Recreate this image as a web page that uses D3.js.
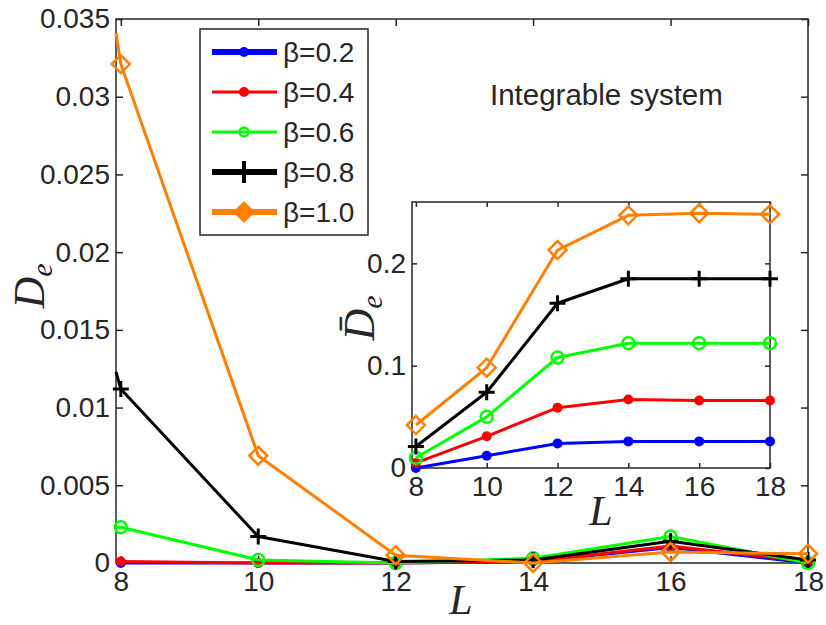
<!DOCTYPE html>
<meta charset="utf-8">
<style>

body {
  margin: 0;
  background: #fff;
}

svg {
  font: 28px "Liberation Sans", Arial, sans-serif;
}

.tick text {
  fill: #262626;
}

.label {
  font-family: "Liberation Serif", "Times New Roman", serif;
  font-style: italic;
  fill: #262626;
}

</style>
<svg width="826" height="625"></svg>
<script src="https://d3js.org/d3.v7.min.js"></script>
<script>

// system sizes
var L = [8, 10, 12, 14, 16, 18];

var betas = ["0.2", "0.4", "0.6", "0.8", "1.0"];
var colors = ["#0000ff", "#ff0000", "#00ff00", "#000000", "#ff8000"];
var markers = ["dot", "dot", "ring", "plus", "diamond"];

// main panel, D_e per beta
var De_b02 = [0.0000, 0.0000, 0.0000, 0.0001, 0.0010, 0.0000];
var De_b04 = [0.0001, 0.0000, 0.0000, 0.0001, 0.0011, 0.0001];
var De_b06 = [0.0023, 0.0002, 0.0000, 0.0003, 0.0017, 0.0000];
var De_b08 = [0.0112, 0.0017, 0.0001, 0.0002, 0.0014, 0.0002];
var De_b10 = [0.0321, 0.0069, 0.0005, 0.0000, 0.0007, 0.0006];
// where each line enters at the left edge of the axes
var De_edge = [0.0000, 0.0001, 0.0023, 0.0123, 0.0341];

// inset, mean D_e per beta
var Dbar_b02 = [0.000, 0.012, 0.024, 0.026, 0.026, 0.026];
var Dbar_b04 = [0.005, 0.031, 0.059, 0.067, 0.066, 0.066];
var Dbar_b06 = [0.010, 0.050, 0.108, 0.122, 0.122, 0.122];
var Dbar_b08 = [0.021, 0.074, 0.161, 0.185, 0.185, 0.185];
var Dbar_b10 = [0.042, 0.098, 0.213, 0.247, 0.249, 0.248];

var mainTicksY = [0, 0.005, 0.01, 0.015, 0.02, 0.025, 0.03, 0.035];
var insetTicksY = [0, 0.1, 0.2];

var De = [De_b02, De_b04, De_b06, De_b08, De_b10];
var Dbar = [Dbar_b02, Dbar_b04, Dbar_b06, Dbar_b08, Dbar_b10];

</script>
<script>

var svg = d3.select("svg");
var fmt = function(d) { return String(+d.toFixed(3)); };

function marker(g, type, color) {
  if (type === "dot") {
    g.append("circle").attr("r", 5).attr("fill", color);
  } else if (type === "ring") {
    g.append("circle").attr("r", 6).attr("fill", "none")
        .attr("stroke", color).attr("stroke-width", 2.5);
  } else if (type === "plus") {
    g.append("path").attr("d", "M-8,0H8M0,-8V8").attr("fill", "none")
        .attr("stroke", color).attr("stroke-width", 3);
  } else {
    g.append("path").attr("d", "M0,-9L9,0L0,9L-9,0Z")
        .attr("fill", "none")
        .attr("stroke", color).attr("stroke-width", 2.5);
  }
}

function panel(x, y, ticksY, tick) {
  var g = svg.append("g");
  var x0 = x.range()[0], x1 = x.range()[1], y0 = y.range()[0], y1 = y.range()[1];
  g.append("rect")
      .attr("x", x0).attr("y", y1)
      .attr("width", x1 - x0).attr("height", y0 - y1)
      .attr("fill", "#fff");
  g.append("g")
      .attr("transform", "translate(0," + y0 + ")")
      .call(d3.axisBottom(x).tickValues(L).tickSize(-tick).tickPadding(8));
  g.append("g")
      .attr("transform", "translate(0," + y1 + ")")
      .call(d3.axisTop(x).tickValues(L).tickSize(-tick).tickFormat(""));
  g.append("g")
      .attr("transform", "translate(" + x0 + ",0)")
      .call(d3.axisLeft(y).tickValues(ticksY).tickSize(-tick).tickPadding(6).tickFormat(fmt));
  g.append("g")
      .attr("transform", "translate(" + x1 + ",0)")
      .call(d3.axisRight(y).tickValues(ticksY).tickSize(-tick).tickFormat(""));
  g.selectAll(".domain").remove();
  g.selectAll(".tick line").attr("stroke", "#262626").attr("stroke-width", 1.5);
  g.selectAll(".tick text").attr("font-size", 28).attr("font-family", null);
  g.append("rect")
      .attr("x", x0).attr("y", y1)
      .attr("width", x1 - x0).attr("height", y0 - y1)
      .attr("fill", "none").attr("stroke", "#262626").attr("stroke-width", 1.5);
  return g;
}

function series(g, x, y, rows, edge) {
  rows.forEach(function(vals, i) {
    var pts = L.map(function(l, j) { return [l, vals[j]]; });
    var linePts = edge ? [[x.domain()[0], edge[i]]].concat(pts) : pts;
    g.append("path")
        .attr("fill", "none")
        .attr("stroke", colors[i])
        .attr("stroke-width", 3)
        .attr("stroke-linejoin", "round")
        .attr("d", d3.line().x(function(d) { return x(d[0]); }).y(function(d) { return y(d[1]); })(linePts));
    pts.forEach(function(p) {
      var m = g.append("g").attr("transform", "translate(" + x(p[0]) + "," + y(p[1]) + ")");
      marker(m, markers[i], colors[i]);
    });
  });
}

// main axes
var x = d3.scaleLinear().domain([7.93, 18]).range([116, 808]);
var y = d3.scaleLinear().domain([0, 0.035]).range([563, 19]);
var main = panel(x, y, mainTicksY, 7);
series(main, x, y, De, De_edge);

svg.append("text")
    .attr("class", "label")
    .attr("x", 461).attr("y", 614)
    .attr("text-anchor", "middle")
    .attr("font-size", 42)
    .text("L");

var yl = svg.append("text")
    .attr("class", "label")
    .attr("transform", "translate(44,286) rotate(-90)")
    .attr("text-anchor", "middle")
    .attr("font-size", 44);
yl.append("tspan").text("D");
yl.append("tspan").attr("font-size", 30).attr("dy", 8).text("e");

svg.append("text")
    .attr("x", 490).attr("y", 105)
    .attr("fill", "#262626")
    .attr("font-size", 29.5)
    .text("Integrable system");

// legend
var lg = svg.append("g");
lg.append("rect")
    .attr("x", 200).attr("y", 29)
    .attr("width", 168).attr("height", 206)
    .attr("fill", "#fff").attr("stroke", "#262626").attr("stroke-width", 1.5);
betas.forEach(function(b, i) {
  var row = lg.append("g").attr("transform", "translate(0," + (52 + i * 40) + ")");
  row.append("line")
      .attr("x1", 212).attr("x2", 277)
      .attr("stroke", colors[i])
      .attr("stroke-width", i === 1 || i === 2 ? 3 : 6);
  var m = row.append("g").attr("transform", "translate(244,0)");
  if (markers[i] === "dot") m.append("circle").attr("r", 5).attr("fill", colors[i]);
  else if (markers[i] === "ring") m.append("circle").attr("r", 4.5).attr("fill", "none").attr("stroke", colors[i]).attr("stroke-width", 2.5);
  else if (markers[i] === "plus") m.append("path").attr("d", "M0,-11V11").attr("stroke", colors[i]).attr("stroke-width", 4);
  else m.append("path").attr("d", "M0,-11L11,0L0,11L-11,0Z").attr("fill", colors[i]);
  row.append("text")
      .attr("x", 283).attr("dy", "0.35em")
      .attr("fill", "#262626")
      .attr("font-size", 28)
      .text("\u03b2=" + b);
});

// inset
var xi = d3.scaleLinear().domain([7.89, 18]).range([412, 770]);
var yi = d3.scaleLinear().domain([0, 0.26]).range([468, 202]);
var inset = panel(xi, yi, insetTicksY, 5);
series(inset, xi, yi, Dbar, null);

svg.append("text")
    .attr("class", "label")
    .attr("x", 601).attr("y", 525)
    .attr("text-anchor", "middle")
    .attr("font-size", 42)
    .text("L");

var yli = svg.append("text")
    .attr("class", "label")
    .attr("transform", "translate(374,318) rotate(-90)")
    .attr("text-anchor", "middle")
    .attr("font-size", 44);
yli.append("tspan").text("D\u0304");
yli.append("tspan").attr("font-size", 30).attr("dy", 8).text("e");

</script>
